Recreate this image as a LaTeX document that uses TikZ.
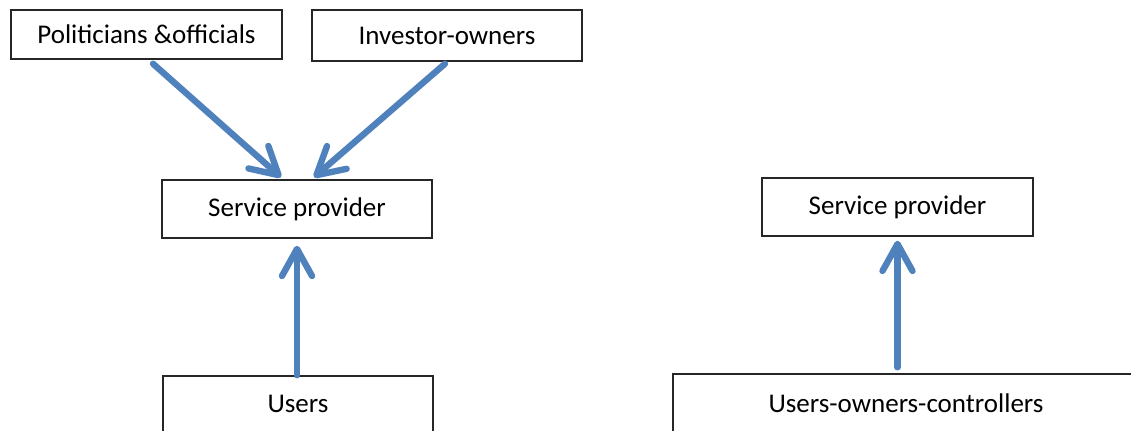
\documentclass[tikz,border=0pt]{standalone}
\usepackage{fontspec}
\setmainfont{Carlito}
\usetikzlibrary{arrows.meta}
\definecolor{ctrlblue}{HTML}{4F81BD}
\tikzset{
  stake/.style={draw=black!85,line width=0.75pt,inner sep=0pt,font=\fontsize{13.5}{16}\selectfont},
  pull/.style={draw=ctrlblue,line width=3.2pt,line cap=round,-{Straight Barb[length=13.5pt,width=15pt,round]}}
}
\newcommand{\stakeholder}[6]{\node[stake,minimum width=#4,minimum height=#5] (#1) at (#2,#3) {#6};}
\newcommand{\pull}[2]{\draw[pull] #1 -- #2;}

\begin{document}
\begin{tikzpicture}[x=0.5pt,y=-0.5pt]
    \useasboundingbox (0,0) rectangle (1131,430);
    % left: outside control
    \stakeholder{pol}{146.5}{34.5}{135.5pt}{24.5pt}{Politicians \&officials}
    \stakeholder{inv}{447}{35.5}{135pt}{25.5pt}{Investor-owners}
    \stakeholder{spl}{297}{209}{135pt}{29pt}{Service provider}
    \stakeholder{users}{298}{404}{135pt}{28pt}{Users}
    \pull{([xshift=3.25pt,yshift=-2pt]pol.south)}{([xshift=-8pt,yshift=1pt]spl.north)}
    \pull{([xshift=-1pt,yshift=-1pt]inv.south)}{([xshift=8.5pt,yshift=1pt]spl.north)}
    \pull{(spl.south |- users.north)}{([yshift=-3.5pt]spl.south)}
    % right: user control
    \stakeholder{spr}{897.5}{207}{135.5pt}{29pt}{Service provider}
    \stakeholder{uoc}{906}{403}{233pt}{29pt}{Users-owners-controllers}
    \pull{([yshift=3pt]spr.south |- uoc.north)}{([yshift=-2pt]spr.south)}
\end{tikzpicture}
\end{document}
